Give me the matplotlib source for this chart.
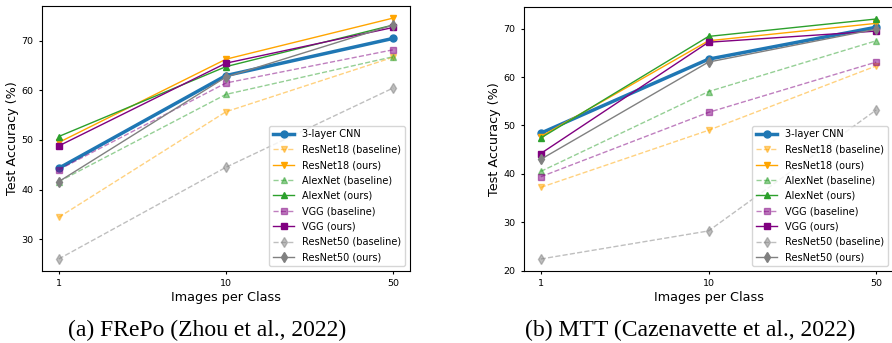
import numpy as np
import matplotlib
matplotlib.use("Agg")
import matplotlib.pyplot as plt

# images per class (categorical x positions)
ipc_labels = ["1", "10", "50"]

# FRePo results
frepo_cnn = [44.3, 63.0, 70.5]
frepo_resnet18_base = [34.4, 55.7, 66.7]
frepo_resnet18_ours = [49.5, 66.3, 74.6]
frepo_alexnet_base = [41.6, 59.2, 66.8]
frepo_alexnet_ours = [50.7, 64.8, 73.2]
frepo_vgg_base = [44.0, 61.5, 68.2]
frepo_vgg_ours = [48.8, 65.5, 72.7]
frepo_resnet50_base = [26.0, 44.5, 60.5]
frepo_resnet50_ours = [41.6, 62.7, 73.2]

# MTT results
mtt_cnn = [48.4, 63.7, 70.3]
mtt_resnet18_base = [37.2, 49.0, 62.3]
mtt_resnet18_ours = [47.7, 67.5, 71.1]
mtt_alexnet_base = [40.5, 57.0, 67.5]
mtt_alexnet_ours = [47.4, 68.4, 72.0]
mtt_vgg_base = [39.4, 52.7, 63.1]
mtt_vgg_ours = [44.2, 67.2, 69.5]
mtt_resnet50_base = [22.4, 28.2, 53.2]
mtt_resnet50_ours = [43.0, 63.1, 69.9]

captions = ["(a) FRePo (Zhou et al., 2022)", "(b) MTT (Cazenavette et al., 2022)"]


def draw_panel(ax, cnn, r18b, r18o, alexb, alexo, vggb, vggo, r50b, r50o):
    x = np.arange(len(ipc_labels))
    ax.plot(x, cnn, color="tab:blue", marker="o", lw=2.5, ms=5, label="3-layer CNN")
    ax.plot(x, r18b, color="orange", marker="v", ls="--", lw=1, ms=5, alpha=0.5, label="ResNet18 (baseline)")
    ax.plot(x, r18o, color="orange", marker="v", lw=1, ms=5, label="ResNet18 (ours)")
    ax.plot(x, alexb, color="tab:green", marker="^", ls="--", lw=1, ms=5, alpha=0.5, label="AlexNet (baseline)")
    ax.plot(x, alexo, color="tab:green", marker="^", lw=1, ms=5, label="AlexNet (ours)")
    ax.plot(x, vggb, color="purple", marker="s", ls="--", lw=1, ms=5, alpha=0.5, label="VGG (baseline)")
    ax.plot(x, vggo, color="purple", marker="s", lw=1, ms=5, label="VGG (ours)")
    ax.plot(x, r50b, color="grey", marker="d", ls="--", lw=1, ms=5, alpha=0.5, label="ResNet50 (baseline)")
    ax.plot(x, r50o, color="grey", marker="d", lw=1, ms=5, label="ResNet50 (ours)")
    ax.set_xticks(x)
    ax.set_xticklabels(ipc_labels)
    ax.tick_params(labelsize=6.8, length=2.5)
    ax.set_xlabel("Images per Class", fontsize=9.2, labelpad=2)
    ax.set_ylabel("Test Accuracy (%)", fontsize=9.2, labelpad=2)
    ax.legend(loc="lower right", fontsize=7.0, handlelength=2.2, labelspacing=0.55)


fig = plt.figure(figsize=(8.92, 3.43), dpi=100)
ax1 = fig.add_axes([42 / 892, 72 / 343, 368 / 892, 265 / 343])
ax2 = fig.add_axes([524 / 892, 72 / 343, 369 / 892, 264 / 343])

draw_panel(ax1, frepo_cnn, frepo_resnet18_base, frepo_resnet18_ours, frepo_alexnet_base,
           frepo_alexnet_ours, frepo_vgg_base, frepo_vgg_ours, frepo_resnet50_base, frepo_resnet50_ours)
draw_panel(ax2, mtt_cnn, mtt_resnet18_base, mtt_resnet18_ours, mtt_alexnet_base,
           mtt_alexnet_ours, mtt_vgg_base, mtt_vgg_ours, mtt_resnet50_base, mtt_resnet50_ours)

fig.text(207 / 892, 1 - 330 / 343, captions[0], ha="center", va="center",
         fontsize=17, family="Liberation Serif")
fig.text(690 / 892, 1 - 330 / 343, captions[1], ha="center", va="center",
         fontsize=17, family="Liberation Serif")

fig.savefig("out.png", dpi=100)
